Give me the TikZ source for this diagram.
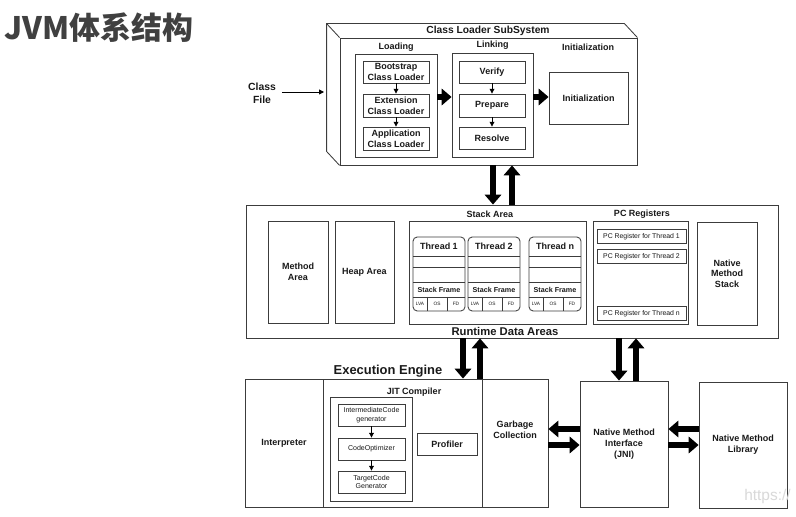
\documentclass[tikz,border=0pt]{standalone}
\usepackage{fontspec}
\setmainfont{Liberation Sans}
\newfontfamily\cjk{Noto Sans CJK SC}
\usepackage{tikz}
\usetikzlibrary{positioning,calc,fit}
\usetikzlibrary{arrows.meta}
\definecolor{LineGray}{RGB}{60,60,60}
\definecolor{InkGray}{RGB}{25,25,25}
\definecolor{TitleGray}{RGB}{64,64,64}
\tikzset{
  blk/.style={draw=LineGray,line width=0.6pt,fill=white,inner sep=0pt},
  tag/.style={inner sep=0pt,align=center,text=InkGray,font=\bfseries\fontsize{6.4}{7.6}\selectfont},
  txt/.style={label={[tag]center:#1}},
  stxt/.style={label={[tag,font=\fontsize{5}{6}\selectfont]center:#1}},
  ptxt/.style={label={[tag,font=\fontsize{4.9}{5.5}\selectfont]center:#1}},
  tny/.style={inner sep=0pt,text=InkGray,font=\fontsize{3.4}{4}\selectfont},
  rule/.style={draw=LineGray,line width=0.6pt},
  fat/.style={draw=black,line width=4.4pt,-{Triangle[width=11.5pt,length=7pt]}},
  thin/.style={draw=black,line width=0.6pt,-{Triangle[width=3.4pt,length=3.4pt]}},
}

\begin{document}
\begin{tikzpicture}[x=0.025cm,y=-0.025cm]
\useasboundingbox (0,0) rectangle (796,517);
\node[anchor=west,inner sep=0pt,text=TitleGray,font=\cjk\bfseries\fontsize{22}{24}\selectfont] (title) at (4,28) {JVM体系结构};

% class loader subsystem
\node[blk,fit={(340,38)(637,165)}] (cls) {};
\draw[rule] (cls.south west) -- ++(-13,-14) |- ($(cls.north east)+(-13,-14)$) -- (cls.north east);
\draw[rule] (cls.north west) -- ++(-13,-14);
\node[tag,font=\bfseries\fontsize{7.3}{8}\selectfont] (clst) at (488,31) {Class Loader SubSystem};

\node[blk,fit={(355,54)(437,157)}] (load) {};
\node[tag,above=1pt of load] (loadt) {Loading};
\node[blk,fit={(363,61)(429,83)},txt={Bootstrap\\Class Loader}] (boot) {};
\node[blk,fit={(363,94)(429,117)},txt={Extension\\Class Loader}] (ext) {};
\node[blk,fit={(363,127)(429,150)},txt={Application\\Class Loader}] (app) {};
\draw[thin] (boot) -- (ext);
\draw[thin] (ext) -- (app);

\node[blk,fit={(452,53)(533,157)}] (link) {};
\node[tag,above=2pt of link] (linkt) {Linking};
\node[blk,fit={(459,61)(525,83)},txt=Verify] (ver) {};
\node[blk,fit={(459,94)(525,117)},txt=Prepare] (prep) {};
\node[blk,fit={(459,127)(525,149)},txt=Resolve] (res) {};
\draw[thin] (ver) -- (prep);
\draw[thin] (prep) -- (res);

\node[tag] (initt) at (588,47) {Initialization};
\node[blk,fit={(549,72)(628,124)},txt=Initialization] (init) {};

\coordinate (ya) at (0,97);
\draw[fat] (load.east |- ya) -- (link.west |- ya);
\draw[fat] (link.east |- ya) -- (init.west |- ya);

\node[tag,font=\bfseries\fontsize{7.4}{9}\selectfont] (cfile) at (262,93) {Class\\File};
\coordinate (clsin) at (324,92);
\draw[thin,shorten <=4pt] (cfile.east |- clsin) -- (clsin);

% runtime data areas
\node[blk,fit={(246,205)(778,338)}] (rda) {};
\node[tag,font=\bfseries\fontsize{8}{9}\selectfont] (rdat) at (505,331) {Runtime Data Areas};
\node[blk,fit={(268,221)(328,323)},txt={Method\\Area}] (meth) {};
\node[blk,fit={(335,221)(394,323)},txt={Heap Area}] (heap) {};

\node[blk,fit={(409,221)(586,324)}] (stack) {};
\node[tag] (stackt) at (490,214) {Stack Area};
\foreach \x/\t [count=\i] in {413/Thread 1,468/Thread 2,529/Thread n}{
  \node[blk,rounded corners=3pt,fit={(\x,237)(\x+52,311)}] (th\i) {};
  \foreach \y in {256,267,282,297} \draw[rule] (\x,\y) -- ++(52,0);
  \draw[rule] (\x+14,297) -- ++(0,14) (\x+34,297) -- ++(0,14);
  \node[tag] (thl\i) at (\x+26,246.5) {\t};
  \node[tag,font=\bfseries\fontsize{5.1}{6}\selectfont] (sf\i) at (\x+26,289.5) {Stack Frame};
  \node[tny] (lva\i) at (\x+7,304) {LVA};
  \node[tny] (os\i) at (\x+24,304) {OS};
  \node[tny] (fd\i) at (\x+43,304) {FD};
}

\node[blk,fit={(593,221)(688,324)}] (pc) {};
\node[tag] (pct) at (642,214) {PC Registers};
\foreach \y/\t [count=\i] in {229/Thread 1,249/Thread 2,306/Thread n}
  \node[blk,fit={(597,\y)(686,\y+14.5)},ptxt={PC Register for \t}] (pc\i) {};
\node[blk,fit={(697,222)(757,325)},txt={Native\\Method\\Stack}] (nms) {};

% execution engine
\node[tag,font=\bfseries\fontsize{9.2}{11}\selectfont] (eet) at (388,371) {Execution Engine};
\node[blk,fit={(245,379)(323,507)},txt=Interpreter] (interp) {};
\node[blk,fit={(323,379)(482,507)}] (jit) {};
\node[blk,fit={(482,379)(548,507)}] (gc) {};
\node[tag] (gct) at (515,430) {Garbage\\Collection};
\node[tag] (jitt) at (414,392) {JIT Compiler};
\node[blk,fit={(330,397)(412,501)}] (jitin) {};
\node[blk,fit={(338,404)(405,426)},stxt={IntermediateCode\\generator}] (icg) {};
\node[blk,fit={(338,438)(405,460)},stxt=CodeOptimizer] (opt) {};
\node[blk,fit={(338,471)(405,493)},stxt={TargetCode\\Generator}] (tcg) {};
\draw[thin] (icg) -- (opt);
\draw[thin] (opt) -- (tcg);
\node[blk,fit={(417,433)(477,455)},txt=Profiler] (prof) {};

\node[blk,fit={(580,381)(668,507)},txt={Native Method\\Interface\\(JNI)}] (jni) {};
\node[blk,fit={(699,382)(787,508)},txt={Native Method\\Library}] (lib) {};

\coordinate (c1) at (493,0);
\coordinate (c2) at (512,0);
\coordinate (c3) at (463,0);
\coordinate (c4) at (480,0);
\coordinate (c5) at (619,0);
\coordinate (c6) at (636,0);
\draw[fat] (cls.south -| c1) -- (rda.north -| c1);
\draw[fat] (rda.north -| c2) -- (cls.south -| c2);
\draw[fat] (rda.south -| c3) -- (jit.north -| c3);
\draw[fat] (jit.north -| c4) -- (rda.south -| c4);
\draw[fat] (rda.south -| c5) -- (jni.north -| c5);
\draw[fat] (jni.north -| c6) -- (rda.south -| c6);

\coordinate (r1) at (0,429);
\coordinate (r2) at (0,445);
\draw[fat] (jni.west |- r1) -- (gc.east |- r1);
\draw[fat] (gc.east |- r2) -- (jni.west |- r2);
\draw[fat] (lib.west |- r1) -- (jni.east |- r1);
\draw[fat] (jni.east |- r2) -- (lib.west |- r2);

\node[anchor=west,inner sep=0pt,text=black!15,font=\fontsize{11}{12}\selectfont] (wm) at (744,497) {https://};
\end{tikzpicture}
\end{document}
